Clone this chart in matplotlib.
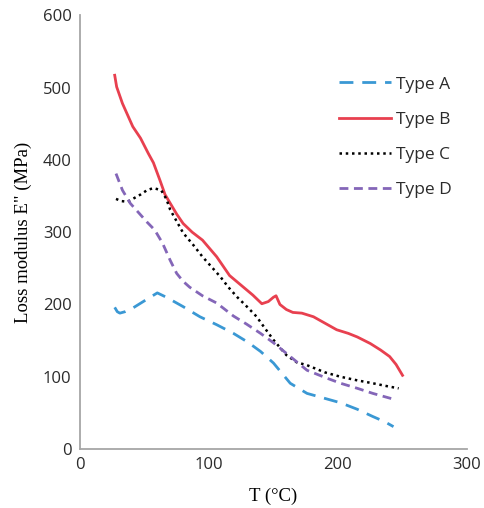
import numpy as np
import matplotlib
matplotlib.use("Agg")
import matplotlib.pyplot as plt

# Values
a_T = [27, 29, 31, 35, 41, 50, 60, 67, 80, 93, 106, 119, 130, 140, 150, 163, 176, 190, 202, 215, 227, 236, 243]
a_E = [196, 190, 188, 190, 195, 205, 216, 210, 197, 183, 172, 160, 148, 135, 119, 91, 77, 70, 64, 55, 45, 38, 31]

b_T = [27, 28.5, 33, 41, 47, 53, 57, 62, 66, 70, 75, 80, 87, 95, 106, 116, 124, 134, 141, 146, 150, 152, 155, 160, 165, 172, 181, 190, 199, 208, 215, 225, 233, 240, 245, 250]
b_E = [517, 501, 478, 446, 430, 409, 396, 372, 352, 340, 325, 312, 300, 289, 266, 240, 228, 213, 201, 204, 210, 212, 200, 193, 189, 188, 183, 174, 165, 160, 155, 146, 137, 128, 117, 102]

c_T = [28, 32, 37, 42, 47, 52, 57, 63, 67, 70, 75, 80, 88, 95, 102, 109, 115, 122, 130, 137, 143, 150, 160, 168, 176, 190, 202, 215, 227, 238, 247]
c_E = [346, 343, 342, 347, 352, 358, 361, 358, 346, 331, 315, 299, 282, 266, 252, 238, 224, 210, 196, 183, 168, 151, 130, 120, 116, 106, 100, 95, 91, 87, 84]

d_T = [28, 33, 39, 46, 52, 58, 64, 70, 75, 80, 85, 95, 106, 119, 129, 140, 150, 163, 176, 190, 202, 215, 227, 237, 245]
d_E = [381, 358, 340, 326, 314, 303, 285, 261, 243, 232, 224, 212, 202, 184, 173, 160, 147, 128, 109, 99, 91, 84, 77, 72, 68]

series = [
    ("Type A", a_T, a_E, "#3a98d4", (0, (5, 3.2)), 2.0),
    ("Type B", b_T, b_E, "#e8404f", "-", 2.0),
    ("Type C", c_T, c_E, "black", (0, (1, 1.5)), 1.8),
    ("Type D", d_T, d_E, "#8466b8", (0, (3.2, 2)), 2.0),
]

fig = plt.figure(figsize=(4.84, 5.08), dpi=100)
ax = fig.add_axes([0.165, 0.116, 0.800, 0.854])

for name, T, E, col, ls, lw in series:
    ax.plot(T, E, color=col, linestyle=ls, linewidth=lw, label=name)

ax.set_xlim(0, 300)
ax.set_ylim(0, 600)
ax.set_xticks([0, 100, 200, 300])
ax.set_yticks([0, 100, 200, 300, 400, 500, 600])
ax.tick_params(length=0, pad=6, labelsize=12, labelcolor="#2b2b2b")
for lab in ax.get_xticklabels() + ax.get_yticklabels():
    lab.set_fontfamily("Open Sans")

for s in ["top", "right"]:
    ax.spines[s].set_visible(False)
for s in ["left", "bottom"]:
    ax.spines[s].set_color("#a6a6a6")
    ax.spines[s].set_linewidth(1.3)

ax.set_xlabel("T (°C)", family="Liberation Serif", fontsize=13.5, labelpad=10)
ax.set_ylabel('Loss modulus E" (MPa)', family="Liberation Serif", fontsize=13.5, labelpad=8)

leg = ax.legend(loc="upper left", bbox_to_anchor=(0.629, 0.895), frameon=False,
                handlelength=3.0, handletextpad=0.3, labelspacing=1.1,
                prop={"family": "Open Sans", "size": 12.5})
for t in leg.get_texts():
    t.set_color("#2b2b2b")

fig.savefig("out.png", dpi=100)
